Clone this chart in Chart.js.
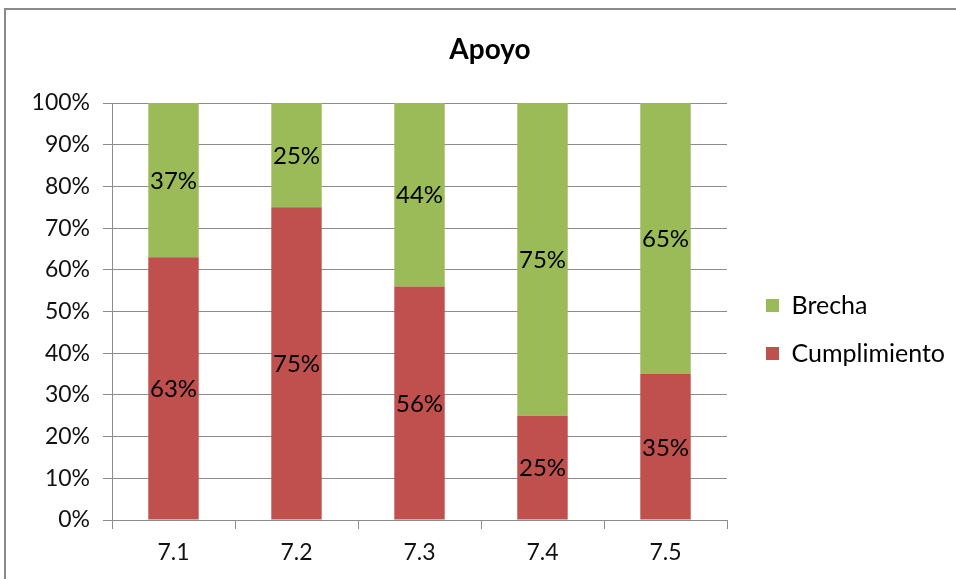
<!DOCTYPE html>
<html>
<head>
<meta charset="utf-8">
<script src="https://cdn.jsdelivr.net/npm/chart.js@4"></script>
<style>
  html, body { margin: 0; padding: 0; background: #fff; overflow: hidden; }
  #wrap { position: absolute; left: 0; top: 0; width: 980px; height: 579px; }
  #frame { position: absolute; left: 4px; top: 8px; width: 1000px; height: 1000px;
           border: 2px solid #8a8a8a; pointer-events: none; }
</style>
</head>
<body>
<div id="wrap"><canvas id="chart"></canvas></div>
<div id="frame"></div>
<script>
'use strict';

let categories = ['7.1', '7.2', '7.3', '7.4', '7.5'];
let cumplimiento = [63, 75, 56, 25, 35];
let brecha = [37, 25, 44, 75, 65];
let yTicks = [0, 10, 20, 30, 40, 50, 60, 70, 80, 90, 100];

const FONT = 'Lato, "Open Sans", sans-serif';
const gridColor = '#8c8c8c';

// draws the % value in the middle of each bar segment
const barLabels = {
  id: 'barLabels',
  afterDatasetsDraw(chart) {
    let ctx = chart.ctx;
    ctx.save();
    ctx.font = '24px ' + FONT;
    ctx.fillStyle = '#000';
    ctx.textAlign = 'center';
    ctx.textBaseline = 'middle';
    chart.data.datasets.forEach((ds, i) => {
      chart.getDatasetMeta(i).data.forEach((bar, j) => {
        let p = bar.getCenterPoint();
        ctx.fillText(ds.data[j] + '%', p.x, p.y + 1);
      });
    });
    ctx.restore();
  }
};

// fixed legend width, then move it to where the reference has it
const legendBox = {
  id: 'legendBox',
  beforeInit(chart) {
    let origFit = chart.legend.fit;
    chart.legend.fit = function () {
      origFit.call(this);
      this.width = 253;
    };
  },
  afterLayout(chart) {
    chart.legend.left += 16;
    chart.legend.right += 16;
    chart.legend.top += 40;
    chart.legend.bottom += 40;
  }
};

let canvasElem = document.getElementById('chart');

let config = {
  type: 'bar',
  data: {
    labels: categories,
    datasets: [{
      label: 'Cumplimiento',
      data: cumplimiento,
      backgroundColor: '#C0504D'
    }, {
      label: 'Brecha',
      data: brecha,
      backgroundColor: '#9BBB59'
    }]
  },
  options: {
    responsive: false,
    animation: false,
    layout: { padding: 0 },
    datasets: {
      bar: { barPercentage: 0.41, categoryPercentage: 1 }
    },
    plugins: {
      title: {
        display: true,
        text: 'Apoyo',
        color: '#000',
        font: { family: FONT, size: 28, weight: 'bold' },
        padding: { top: 33, bottom: 36.4 }
      },
      legend: {
        position: 'right',
        reverse: true,
        labels: {
          color: '#000',
          font: { family: FONT, size: 25 },
          boxWidth: 13,
          boxHeight: 13,
          padding: 23
        }
      },
      tooltip: { enabled: false }
    },
    scales: {
      x: {
        stacked: true,
        grid: { drawOnChartArea: false, drawTicks: true, tickLength: 9, color: gridColor, offset: true },
        border: { display: true, color: gridColor },
        ticks: { color: '#111', font: { family: FONT, size: 23 }, padding: 10 },
        afterFit(scale) { scale.height = 59; }
      },
      y: {
        stacked: true,
        min: 0,
        max: 100,
        afterBuildTicks(scale) { scale.ticks = yTicks.map(v => ({ value: v })); },
        grid: { color: gridColor, tickLength: 9 },
        border: { display: true, color: gridColor },
        ticks: {
          color: '#111',
          font: { family: FONT, size: 23 },
          padding: 13,
          callback: v => v + '%'
        },
        afterFit(scale) { scale.width = 112; }
      }
    }
  },
  plugins: [barLabels, legendBox]
};

canvasElem.width = 980;
canvasElem.height = 579;
let myChart = new Chart(canvasElem, config);
</script>
</body>
</html>
